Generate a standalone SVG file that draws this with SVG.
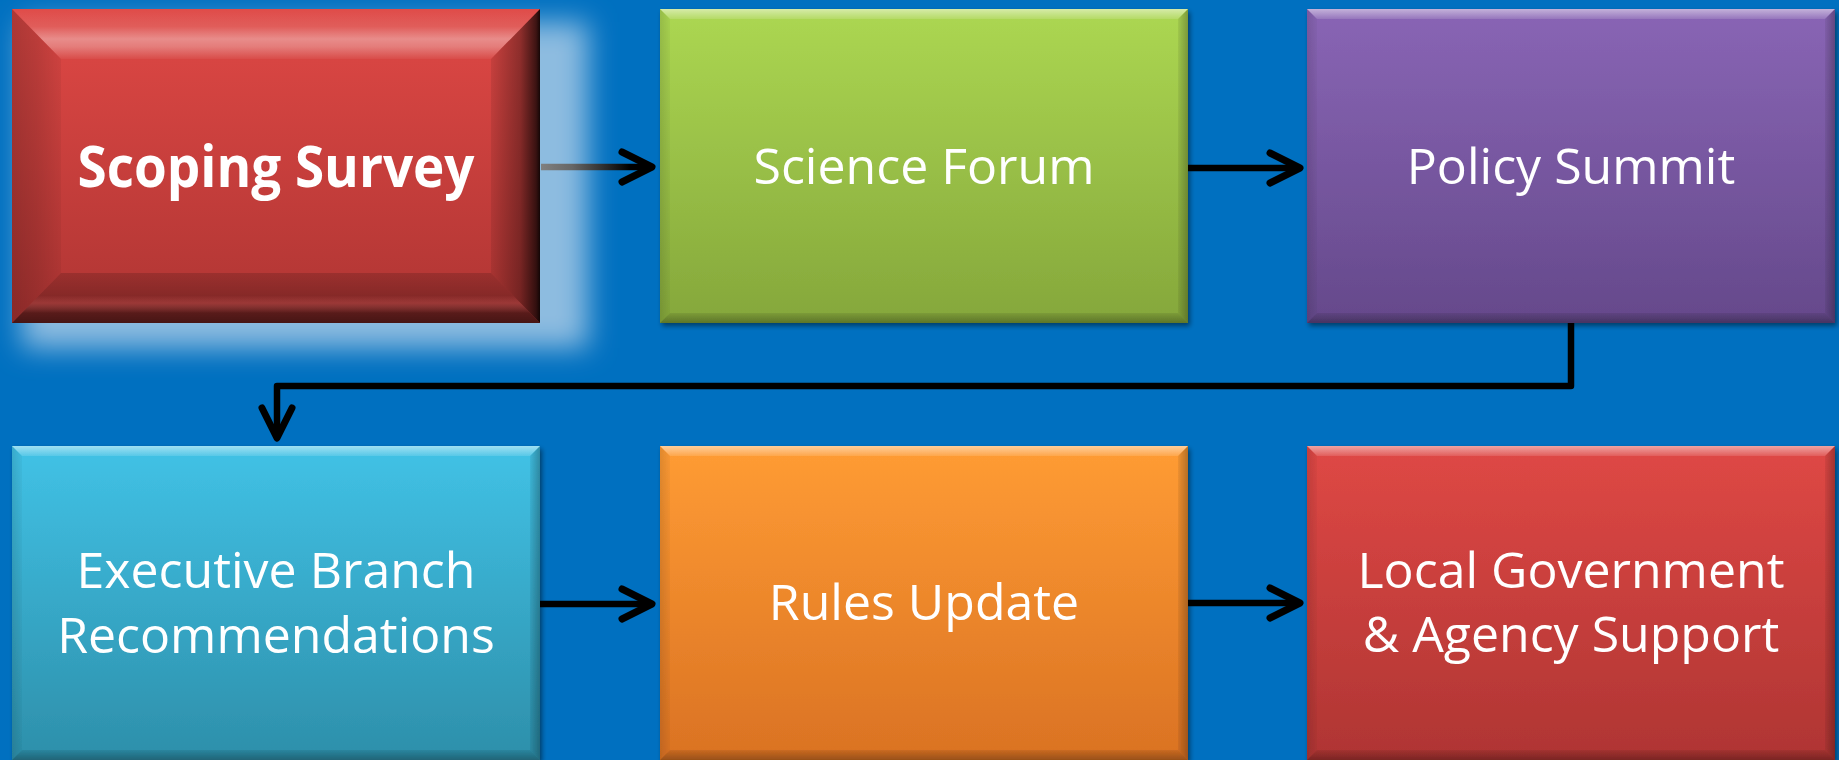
<svg xmlns="http://www.w3.org/2000/svg" width="1839" height="760" viewBox="0 0 1839 760">
  <defs>
    <linearGradient id="gRed" x1="0" y1="0" x2="0" y2="1">
      <stop offset="0" stop-color="#DF4845"/>
      <stop offset="1" stop-color="#AF3533"/>
    </linearGradient>
    <linearGradient id="gGreen" x1="0" y1="0" x2="0" y2="1">
      <stop offset="0" stop-color="#ACD752"/>
      <stop offset="1" stop-color="#85A73B"/>
    </linearGradient>
    <linearGradient id="gPurple" x1="0" y1="0" x2="0" y2="1">
      <stop offset="0" stop-color="#8965B5"/>
      <stop offset="1" stop-color="#65498B"/>
    </linearGradient>
    <linearGradient id="gCyan" x1="0" y1="0" x2="0" y2="1">
      <stop offset="0" stop-color="#41C2E6"/>
      <stop offset="1" stop-color="#2D8FAA"/>
    </linearGradient>
    <linearGradient id="gOrange" x1="0" y1="0" x2="0" y2="1">
      <stop offset="0" stop-color="#FF9C34"/>
      <stop offset="1" stop-color="#DA7223"/>
    </linearGradient>
    <!-- small bevel overlays -->
    <linearGradient id="bTop" x1="0" y1="0" x2="0" y2="1">
      <stop offset="0" stop-color="#fff" stop-opacity="0.5"/>
      <stop offset="1" stop-color="#fff" stop-opacity="0.12"/>
    </linearGradient>
    <linearGradient id="bBottom" x1="0" y1="0" x2="0" y2="1">
      <stop offset="0" stop-color="#000" stop-opacity="0.08"/>
      <stop offset="1" stop-color="#000" stop-opacity="0.3"/>
    </linearGradient>
    <linearGradient id="bRight" x1="0" y1="0" x2="1" y2="0">
      <stop offset="0" stop-color="#000" stop-opacity="0.06"/>
      <stop offset="1" stop-color="#000" stop-opacity="0.28"/>
    </linearGradient>
    <linearGradient id="bLeft" x1="0" y1="0" x2="1" y2="0">
      <stop offset="0" stop-color="#000" stop-opacity="0.12"/>
      <stop offset="1" stop-color="#000" stop-opacity="0.03"/>
    </linearGradient>
    <!-- large bevel overlays (selected node) -->
    <linearGradient id="BTop" x1="0" y1="0" x2="0" y2="1">
      <stop offset="0" stop-color="#fff" stop-opacity="0.02"/>
      <stop offset="0.35" stop-color="#fff" stop-opacity="0.12"/>
      <stop offset="0.6" stop-color="#fff" stop-opacity="0.38"/>
      <stop offset="0.75" stop-color="#fff" stop-opacity="0.3"/>
      <stop offset="1" stop-color="#fff" stop-opacity="0.04"/>
    </linearGradient>
    <linearGradient id="BBottom" x1="0" y1="0" x2="0" y2="1">
      <stop offset="0" stop-color="#000" stop-opacity="0.15"/>
      <stop offset="0.45" stop-color="#000" stop-opacity="0.25"/>
      <stop offset="0.6" stop-color="#404040" stop-opacity="0.2"/>
      <stop offset="0.8" stop-color="#000" stop-opacity="0.5"/>
      <stop offset="1" stop-color="#000" stop-opacity="0.6"/>
    </linearGradient>
    <linearGradient id="BRight" x1="0" y1="0" x2="1" y2="0">
      <stop offset="0" stop-color="#000" stop-opacity="0.08"/>
      <stop offset="0.6" stop-color="#000" stop-opacity="0.35"/>
      <stop offset="0.92" stop-color="#000" stop-opacity="0.72"/>
      <stop offset="1" stop-color="#000" stop-opacity="0.9"/>
    </linearGradient>
    <linearGradient id="BLeft" x1="0" y1="0" x2="1" y2="0">
      <stop offset="0" stop-color="#000" stop-opacity="0.22"/>
      <stop offset="0.5" stop-color="#000" stop-opacity="0.15"/>
      <stop offset="1" stop-color="#000" stop-opacity="0.05"/>
    </linearGradient>
    <linearGradient id="lineFade" gradientUnits="userSpaceOnUse" x1="541" y1="0" x2="630" y2="0">
      <stop offset="0" stop-color="#808080"/>
      <stop offset="0.35" stop-color="#666"/>
      <stop offset="1" stop-color="#000"/>
    </linearGradient>
    <filter id="shadow" x="-5%" y="-5%" width="112%" height="112%">
      <feGaussianBlur in="SourceAlpha" stdDeviation="2.5"/>
      <feOffset dx="2" dy="3" result="b"/>
      <feComponentTransfer><feFuncA type="linear" slope="0.45"/></feComponentTransfer>
      <feMerge><feMergeNode/><feMergeNode in="SourceGraphic"/></feMerge>
    </filter>
    <filter id="glow" x="-20%" y="-20%" width="140%" height="140%">
      <feGaussianBlur stdDeviation="14"/>
    </filter>
    <marker id="chev" markerUnits="userSpaceOnUse" viewBox="-40 -22 46 44" refX="0" refY="0" markerWidth="46" markerHeight="44" orient="auto">
      <path d="M-30,-15 L0,0 L-30,15" fill="none" stroke="#000" stroke-width="7" stroke-linecap="round" stroke-linejoin="round"/>
    </marker>
    <style>
      .lbl { font-family: "Open Sans", "Liberation Sans", sans-serif; font-size: 50px; fill: #FFFFFF; text-anchor: middle; }
      .bold { font-weight: bold; font-size: 57px; }
      .conn { fill: none; stroke-width: 6.5; stroke-linejoin: round; marker-end: url(#chev); }
    </style>
  </defs>

  <rect x="0" y="0" width="1839" height="760" fill="#0070C0"/>

  <g id="node-scoping-survey">
    <rect x="22" y="22" width="566" height="326" fill="#8DBCE0" filter="url(#glow)"/>
    <rect x="12" y="9" width="528" height="314" fill="url(#gRed)"/>
    <polygon points="12,9 540,9 491,59 61,59" fill="url(#BTop)"/>
    <polygon points="12,9 61,59 61,273 12,323" fill="url(#BLeft)"/>
    <polygon points="540,9 491,59 491,273 540,323" fill="url(#BRight)"/>
    <polygon points="12,323 540,323 491,273 61,273" fill="url(#BBottom)"/>
    <text class="lbl bold" x="276" y="187" textLength="397" lengthAdjust="spacingAndGlyphs">Scoping Survey</text>
  </g>

  <g id="node-science-forum" filter="url(#shadow)">
    <rect x="660" y="9" width="528" height="314" fill="url(#gGreen)"/>
    <polygon points="660,9 1188,9 1178,19 670,19" fill="url(#bTop)"/>
    <polygon points="660,9 670,19 670,313 660,323" fill="url(#bLeft)"/>
    <polygon points="1188,9 1178,19 1178,313 1188,323" fill="url(#bRight)"/>
    <polygon points="660,323 1188,323 1178,313 670,313" fill="url(#bBottom)"/>
    <text class="lbl" x="924" y="184">Science Forum</text>
  </g>

  <g id="node-policy-summit" filter="url(#shadow)">
    <rect x="1307" y="9" width="528" height="314" fill="url(#gPurple)"/>
    <polygon points="1307,9 1835,9 1825,19 1317,19" fill="url(#bTop)"/>
    <polygon points="1307,9 1317,19 1317,313 1307,323" fill="url(#bLeft)"/>
    <polygon points="1835,9 1825,19 1825,313 1835,323" fill="url(#bRight)"/>
    <polygon points="1307,323 1835,323 1825,313 1317,313" fill="url(#bBottom)"/>
    <text class="lbl" x="1571" y="184">Policy Summit</text>
  </g>

  <g id="node-executive-branch" filter="url(#shadow)">
    <rect x="12" y="446" width="528" height="314" fill="url(#gCyan)"/>
    <polygon points="12,446 540,446 530,456 22,456" fill="url(#bTop)"/>
    <polygon points="12,446 22,456 22,750 12,760" fill="url(#bLeft)"/>
    <polygon points="540,446 530,456 530,750 540,760" fill="url(#bRight)"/>
    <polygon points="12,760 540,760 530,750 22,750" fill="url(#bBottom)"/>
    <text class="lbl" x="276" y="588">Executive Branch</text>
    <text class="lbl" x="276" y="653">Recommendations</text>
  </g>

  <g id="node-rules-update" filter="url(#shadow)">
    <rect x="660" y="446" width="528" height="314" fill="url(#gOrange)"/>
    <polygon points="660,446 1188,446 1178,456 670,456" fill="url(#bTop)"/>
    <polygon points="660,446 670,456 670,750 660,760" fill="url(#bLeft)"/>
    <polygon points="1188,446 1178,456 1178,750 1188,760" fill="url(#bRight)"/>
    <polygon points="660,760 1188,760 1178,750 670,750" fill="url(#bBottom)"/>
    <text class="lbl" x="924" y="620">Rules Update</text>
  </g>

  <g id="node-local-government" filter="url(#shadow)">
    <rect x="1307" y="446" width="528" height="314" fill="url(#gRed)"/>
    <polygon points="1307,446 1835,446 1825,456 1317,456" fill="url(#bTop)"/>
    <polygon points="1307,446 1317,456 1317,750 1307,760" fill="url(#bLeft)"/>
    <polygon points="1835,446 1825,456 1825,750 1835,760" fill="url(#bRight)"/>
    <polygon points="1307,760 1835,760 1825,750 1317,750" fill="url(#bBottom)"/>
    <text class="lbl" x="1571" y="588">Local Government</text>
    <text class="lbl" x="1571" y="652">&amp; Agency Support</text>
  </g>

  <g id="connectors">
    <path class="conn" d="M541,167 L652,167" style="stroke: url(#lineFade)"/>
    <path class="conn" d="M1188,168 L1300,168" style="stroke: #000"/>
    <path class="conn" d="M1571,323 L1571,386 L277,386 L277,438" style="stroke: #000"/>
    <path class="conn" d="M540,604 L652,604" style="stroke: #000"/>
    <path class="conn" d="M1188,603 L1300,603" style="stroke: #000"/>
  </g>
</svg>
